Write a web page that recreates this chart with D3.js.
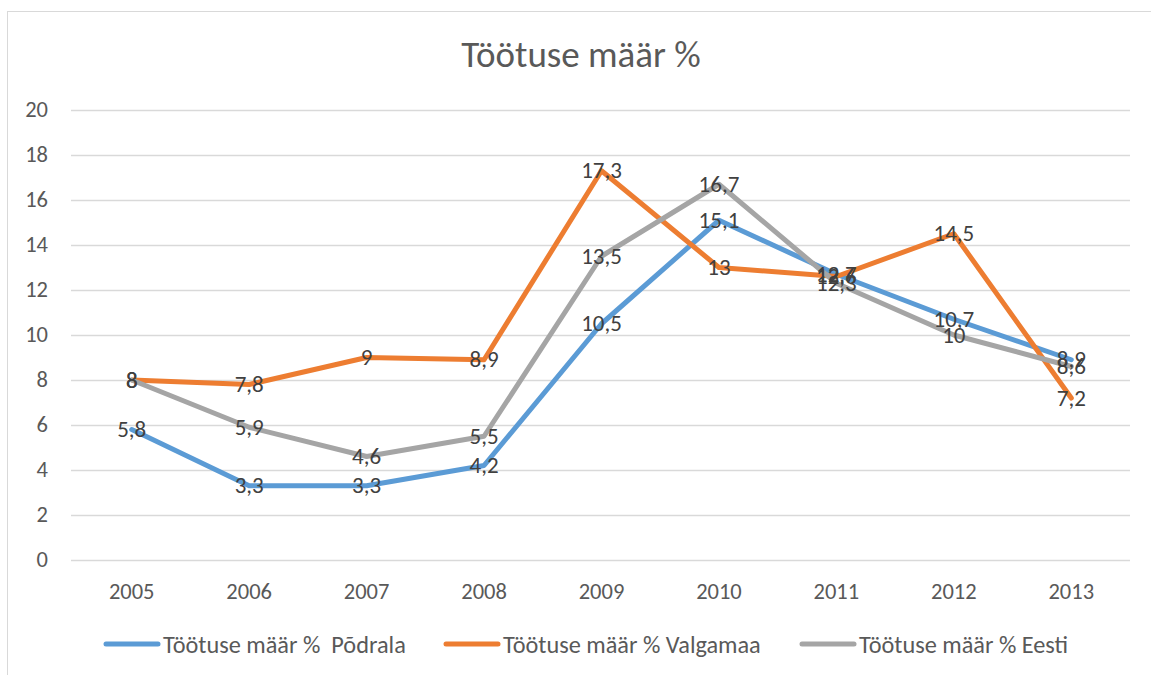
<!DOCTYPE html>
<html>
<head>
<meta charset="utf-8">
<script src="https://cdn.jsdelivr.net/npm/d3@7"></script>
<style>
  body { margin: 0; background: #fff; }
  svg { display: block; font-family: Carlito, Calibri, Lato, sans-serif; }
</style>
</head>
<body>
<script>
// data
var years = ["2005", "2006", "2007", "2008", "2009", "2010", "2011", "2012", "2013"];
var podrala = [5.8, 3.3, 3.3, 4.2, 10.5, 15.1, 12.7, 10.7, 8.9];
var valgamaa = [8, 7.8, 9, 8.9, 17.3, 13, 12.6, 14.5, 7.2];
var eesti = [8, 5.9, 4.6, 5.5, 13.5, 16.7, 12.3, 10, 8.6];
var seriesNames = ["Töötuse määr %  Põdrala", "Töötuse määr % Valgamaa", "Töötuse määr % Eesti"];
var yTicks = [0, 2, 4, 6, 8, 10, 12, 14, 16, 18, 20];

var series = [
  { name: seriesNames[0], values: podrala, color: "#5B9BD5" },
  { name: seriesNames[1], values: valgamaa, color: "#ED7D31" },
  { name: seriesNames[2], values: eesti, color: "#A5A5A5" }
];

var width = 1151, height = 675;

var svg = d3.select("body").append("svg")
    .attr("width", width)
    .attr("height", height);

// chart border
svg.append("rect")
    .attr("x", 7.5).attr("y", 11.5)
    .attr("width", 1160).attr("height", 700)
    .attr("fill", "none")
    .attr("stroke", "#d9d9d9");

var x = d3.scaleBand()
    .domain(years)
    .range([73, 1130]);

var y = d3.scaleLinear()
    .domain([0, 20])
    .range([560, 110]);

// gridlines
svg.append("g")
  .selectAll("line")
  .data(yTicks)
  .enter().append("line")
    .attr("x1", 71)
    .attr("x2", 1130)
    .attr("y1", function(d) { return y(d) + 0.5; })
    .attr("y2", function(d) { return y(d) + 0.5; })
    .attr("stroke", "#d9d9d9")
    .attr("stroke-width", 1.3);

// y labels
svg.append("g")
  .selectAll("text")
  .data(yTicks)
  .enter().append("text")
    .attr("x", 48)
    .attr("y", function(d) { return y(d); })
    .attr("dy", "0.33em")
    .attr("text-anchor", "end")
    .attr("fill", "#595959")
    .attr("font-size", 22.5)
    .text(function(d) { return d; });

// x labels
svg.append("g")
  .selectAll("text")
  .data(years)
  .enter().append("text")
    .attr("x", function(d) { return x(d) + x.bandwidth() / 2; })
    .attr("y", 599)
    .attr("text-anchor", "middle")
    .attr("fill", "#595959")
    .attr("font-size", 22.5)
    .text(function(d) { return d; });

// title
svg.append("text")
    .attr("x", 581)
    .attr("y", 67)
    .attr("text-anchor", "middle")
    .attr("fill", "#595959")
    .attr("font-size", 37)
    .text("Töötuse määr %");

var line = d3.line()
    .x(function(d, i) { return x(years[i]) + x.bandwidth() / 2; })
    .y(function(d) { return y(d); });

svg.append("g")
  .selectAll("path")
  .data(series)
  .enter().append("path")
    .attr("d", function(d) { return line(d.values); })
    .attr("fill", "none")
    .attr("stroke", function(d) { return d.color; })
    .attr("stroke-width", 5)
    .attr("stroke-linejoin", "round")
    .attr("stroke-linecap", "round");

// data labels
var fmt = function(v) { return String(v).replace(".", ","); };
series.forEach(function(s) {
  svg.append("g")
    .selectAll("text")
    .data(s.values)
    .enter().append("text")
      .attr("x", function(d, i) { return x(years[i]) + x.bandwidth() / 2; })
      .attr("y", function(d) { return y(d); })
      .attr("dy", "0.33em")
      .attr("text-anchor", "middle")
      .attr("fill", "#404040")
      .attr("font-size", 23)
      .text(fmt);
});

// legend
var legendX = [104, 444, 800];
var legend = svg.append("g")
  .selectAll("g")
  .data(series)
  .enter().append("g")
    .attr("transform", function(d, i) { return "translate(" + legendX[i] + ",644)"; });

legend.append("line")
    .attr("x1", 2).attr("x2", 54)
    .attr("stroke", function(d) { return d.color; })
    .attr("stroke-width", 5)
    .attr("stroke-linecap", "round");

legend.append("text")
    .attr("x", 59)
    .attr("y", 8.5)
    .attr("fill", "#595959")
    .attr("font-size", 24.3)
    .style("white-space", "pre")
    .text(function(d) { return d.name; });
</script>
</body>
</html>
